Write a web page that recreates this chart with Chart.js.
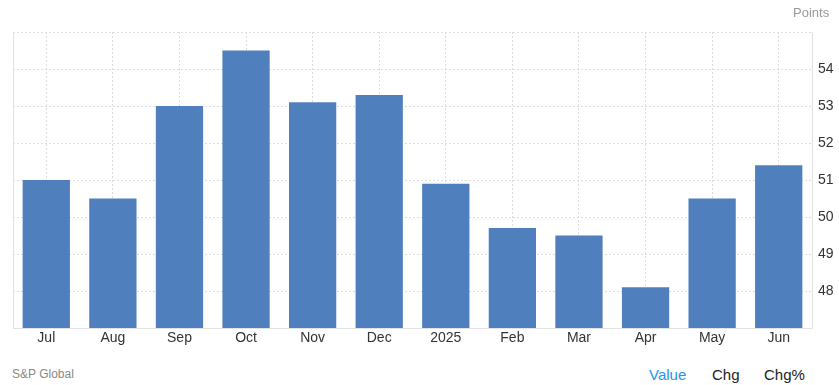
<!DOCTYPE html>
<html>
<head>
<meta charset="utf-8">
<script src="https://cdn.jsdelivr.net/npm/chart.js@4"></script>
<style>
    body { margin: 0; width: 839px; height: 385px; overflow: hidden; background: #fff; font-family: "Liberation Sans", Arial, sans-serif; }
    #wrap { position: absolute; left: 0; top: 0; width: 839px; height: 350px; }
    .lbl { position: absolute; white-space: nowrap; }
</style>
</head>
<body>
<div id="wrap"><canvas id="pmiChart"></canvas></div>
<div class="lbl" style="left:793px; top:5px; font-size:13px; color:#999;">Points</div>
<div class="lbl" style="left:12px; top:367px; font-size:12px; color:#888;">S&amp;P Global</div>
<div class="lbl" style="left:649px; top:366px; font-size:15px; color:#2196f3;">Value</div>
<div class="lbl" style="left:712px; top:366px; font-size:15px; color:#222;">Chg</div>
<div class="lbl" style="left:764px; top:366px; font-size:15px; color:#222;">Chg%</div>
<script>
// Chart data
const months = ["Jul", "Aug", "Sep", "Oct", "Nov", "Dec", "2025", "Feb", "Mar", "Apr", "May", "Jun"];
const pmiValues = [51.0, 50.5, 53.0, 54.5, 53.1, 53.3, 50.9, 49.7, 49.5, 48.1, 50.5, 51.4];
const yMin = 47;
const yMax = 55;

const gridColor = "#dcdcdc";
const axisColor = "#e2e2e2";

const ctx = document.getElementById("pmiChart").getContext("2d");

new Chart(ctx, {
    type: "bar",
    data: {
        labels: months,
        datasets: [
            {
                label: "Points",
                data: pmiValues,
                backgroundColor: "#4f80bd",
                categoryPercentage: 1,
                barPercentage: 0.71,
            },
        ],
    },
    options: {
        responsive: true,
        maintainAspectRatio: false,
        animation: false,
        layout: {
            padding: { left: 13, top: 32, right: 0, bottom: 0 },
        },
        plugins: {
            legend: { display: false },
            tooltip: { enabled: false },
        },
        scales: {
            x: {
                grid: {
                    offset: false,
                    color: gridColor,
                    drawTicks: false,
                },
                border: { color: axisColor, dash: [2, 2] },
                ticks: {
                    color: "#333",
                    font: { family: "Liberation Sans", size: 14 },
                    padding: 2,
                    maxRotation: 0,
                },
                afterFit: (scale) => {
                    scale.height = 22;
                },
            },
            y: {
                position: "right",
                min: yMin,
                max: yMax,
                grid: {
                    color: gridColor,
                    drawTicks: false,
                },
                border: { color: axisColor, dash: [2, 2] },
                ticks: {
                    stepSize: 1,
                    color: "#333",
                    font: { family: "Liberation Sans", size: 14 },
                    padding: 6,
                    callback: (value) =>
                        value === yMin || value === yMax ? "" : value,
                },
                afterFit: (scale) => {
                    scale.width = 27;
                },
            },
            yLeft: {
                position: "left",
                min: yMin,
                max: yMax,
                grid: { display: false, drawTicks: false },
                border: { color: axisColor },
                ticks: { display: false },
                afterFit: (scale) => {
                    scale.width = 0;
                },
            },
        },
    },
});
</script>
</body>
</html>
